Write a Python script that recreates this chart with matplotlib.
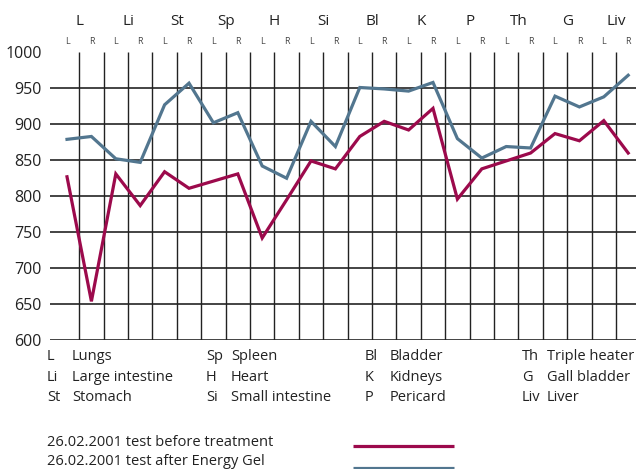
import matplotlib
matplotlib.use("Agg")
import matplotlib.pyplot as plt
from matplotlib.lines import Line2D

W, H = 636, 469

meridians = ["L", "Li", "St", "Sp", "H", "Si", "Bl", "K", "P", "Th", "G", "Liv"]
sides = ["L", "R"]
before = [826, 653, 830, 786, 833, 810, 820, 830, 741, 794, 848, 837,
          882, 903, 891, 921, 795, 837, 848, 859, 886, 876, 904, 859]
after = [878, 882, 851, 846, 926, 956, 901, 915, 841, 824, 903, 868,
         950, 948, 945, 957, 879, 852, 868, 866, 938, 923, 937, 967]
yticks = [1000, 950, 900, 850, 800, 750, 700, 650, 600]
legend_rows = [
    [("L", "Lungs"), ("Li", "Large intestine"), ("St", "Stomach")],
    [("Sp", "Spleen"), ("H", "Heart"), ("Si", "Small intestine")],
    [("Bl", "Bladder"), ("K", "Kidneys"), ("P", "Pericard")],
    [("Th", "Triple heater"), ("G", "Gall bladder"), ("Liv", "Liver")],
]
series_labels = ["26.02.2001 test before treatment", "26.02.2001 test after Energy Gel"]

RED = "#9c0a4c"
BLUE = "#52768f"
FONT = "Open Sans"
plt.rcParams["font.family"] = [FONT, "DejaVu Sans"]

fig = plt.figure(figsize=(W / 100, H / 100), dpi=100)

def fx(px):
    return px / W

def fy(py):
    return 1 - py / H

ax_l, ax_r = 50, 636
ax_t, ax_b = 51.5, 339.5
ax = fig.add_axes([fx(ax_l), fy(ax_b), fx(ax_r) - fx(ax_l), fy(ax_t) - fy(ax_b)])

n = len(before)
xs = list(range(n))
ax.set_xlim(-0.697, 23.32)
ax.set_ylim(600, 1000)

for s in ax.spines.values():
    s.set_visible(False)

for yv in yticks[1:]:
    ax.axhline(yv, color="#111111", lw=1.1, zorder=1)
for i in range(n - 1):
    ax.plot([i + 0.5, i + 0.5], [600, 1000], color="#222222", lw=1.0, zorder=1,
            solid_capstyle="butt")

ax.plot(xs, after, color=BLUE, lw=2.3, zorder=3, solid_joinstyle="miter")
ax.plot(xs, before, color=RED, lw=2.3, zorder=4, solid_joinstyle="miter")

ax.set_yticks(yticks)
ax.set_yticklabels([str(v) for v in yticks], fontsize=11.5, color="#222222")
ax.tick_params(axis="y", length=0, pad=6)
ax.set_xticks([])

for k, m in enumerate(meridians):
    ax.text(2 * k + 0.5, 1041.4, m, ha="center", va="center", fontsize=11,
            color="#222222", clip_on=False)
for i in range(n):
    ax.text(i, 1013.6, sides[i % 2], ha="center", va="center", fontsize=6.5,
            color="#444444", clip_on=False)

col_x = [47, 206, 365, 522]
row_y = [356.5, 377, 397]
for c, col in enumerate(legend_rows):
    for r, (ab, name) in enumerate(col):
        fig.text(fx(col_x[c]), fy(row_y[r]), ab, ha="left", va="center",
                 fontsize=10.5, color="#222222")
        fig.text(fx(col_x[c] + 25), fy(row_y[r]), name, ha="left", va="center",
                 fontsize=10.5, color="#222222")

sy = [442.5, 461]
ly = [445.7, 467.5]
for lbl, yy, lyy, colr in zip(series_labels, sy, ly, [RED, BLUE]):
    fig.text(fx(47), fy(yy), lbl, ha="left", va="center", fontsize=10.5, color="#222222")
    fig.add_artist(Line2D([fx(353), fx(454)], [fy(lyy), fy(lyy)], color=colr, lw=2.3,
                          transform=fig.transFigure, solid_capstyle="butt"))

fig.savefig("out.png", dpi=100)
